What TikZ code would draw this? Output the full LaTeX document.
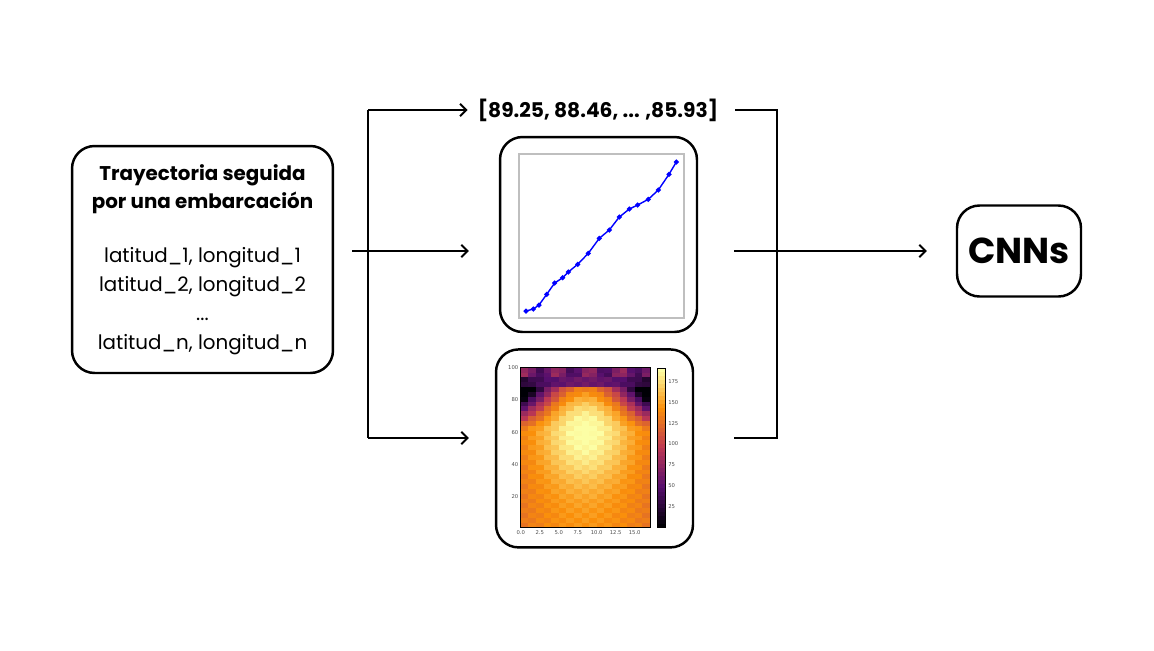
\documentclass[tikz,border=0pt]{standalone}
\usepackage{fontspec}
\setmainfont{Poppins}
\newfontfamily\tickfont{DejaVu Sans}
\usetikzlibrary{arrows.meta,positioning}

% inferno colour for a value in [0,1]
\newcommand\setinferno[1]{%
  \pgfmathsetmacro\infT{4*max(0,min(0.999,#1))}%
  \pgfmathtruncatemacro\infS{\infT}%
  \pgfmathtruncatemacro\infN{\infS+1}%
  \pgfmathsetmacro\infF{\infT-\infS}%
  \pgfmathsetmacro\infR{{0.00,0.34,0.74,0.98,0.99}[\infS]*(1-\infF)+{0.00,0.34,0.74,0.98,0.99}[\infN]*\infF}%
  \pgfmathsetmacro\infG{{0.00,0.06,0.22,0.56,1.00}[\infS]*(1-\infF)+{0.00,0.06,0.22,0.56,1.00}[\infN]*\infF}%
  \pgfmathsetmacro\infB{{0.02,0.43,0.33,0.04,0.65}[\infS]*(1-\infF)+{0.02,0.43,0.33,0.04,0.65}[\infN]*\infF}%
  \definecolor{cellc}{rgb}{\infR,\infG,\infB}}

\begin{document}
\begin{tikzpicture}[x=0.02cm,y=-0.02cm,every path/.style={>={Straight Barb[length=3.5pt,width=7pt]}},
		block/.style={rectangle,draw,line width=1.4pt,rounded corners=0.45cm,align=center},
		link/.style={line width=1.1pt},
		tick/.style={font=\tickfont\fontsize{3}{3}\selectfont,text=black!70,inner sep=0.8pt}]
		\useasboundingbox (0,0) rectangle (1154,650);

		\node[block,minimum width=5.22cm,minimum height=4.54cm,font=\fontsize{11.3}{16.5}\selectfont] (traj) at (202.5,259.5)
			{{\bfseries Trayectoria seguida}\\{\bfseries por una embarcación}\\[14pt]latitud\_1, longitud\_1\\latitud\_2, longitud\_2\\...\\latitud\_n, longitud\_n};
		\node[block,minimum width=3.94cm,minimum height=3.9cm] (plot) at (598.5,234.5) {};
		\node[block,minimum width=3.94cm,minimum height=3.96cm,below=0.3cm of plot,xshift=-0.08cm] (heat) {};
		\node[font=\fontsize{11.5}{14}\bfseries,inner sep=0pt] (vals) at (598,110) {[89.25, 88.46, ... ,85.93]};
		\node[block,minimum width=2.48cm,minimum height=1.82cm,font=\fontsize{20.5}{24}\bfseries] (cnn) at (1019,251) {CNNs};

		% line plot
		\draw[gray!50,line width=0.6pt] (519,154) rectangle (684,318);
		\draw[blue,line width=0.8pt,mark=*,mark size=1pt] plot coordinates {(526,311) (533.3,309) (539,305) (546.7,294.3) (554.7,283) (562.7,277.7) (568.3,272) (577.7,264.3) (588.3,253.3) (599.3,238.3) (609.3,230) (619.3,217) (629.3,209) (637.7,205) (648.3,199.3) (658.3,190) (669,174.3) (676.3,162)};

		% heat map
		\foreach \i in {0,...,16}{
			\foreach \j in {0,...,32}{
				\pgfmathsetmacro\hx{(\i+0.5-8.5)/8.5}
				\pgfmathsetmacro\hy{3*\j+2.5}
				\pgfmathsetmacro\hb{125+15*(1-\hx*\hx)+50*exp(-(\hx/0.7)^2-((\hy-60)/32)^2)}
				\pgfmathsetmacro\hv{\hy<62 ? \hb : (\hy<88 ? \hb-(200*(\hy-62)/30)*\hx*\hx-50*((\hy-62)/30)^2 : (\hy<94 ? 15+40*(1-\hx*\hx) : 55+20*cos(\i*85)))}
				\setinferno{(\hv+6*mod(\i+\j,2))/190}
				\fill[cellc] (520.7+7.6*\i,527.7-4.85*\j) rectangle ++(7.7,-4.95);
			}}
		\draw[line width=0.3pt] (520.7,367.7) rectangle (650,527.7);
		\foreach \k in {0,...,39}{
			\setinferno{\k/39}
			\fill[cellc] (657.7,527.7-3.985*\k) rectangle ++(8,-4.1);
		}
		\draw[line width=0.3pt] (657.7,368.3) rectangle (665.7,527.7);
		\foreach \u in {20,40,...,100}
			\node[tick,anchor=east] at (520,527.7-1.617*\u+1.6) {\u};
		\foreach \u/\t in {0/0.0,2.5/2.5,5/5.0,7.5/7.5,10/10.0,12.5/12.5,15/15.0}
			\node[tick,anchor=north] at (520.7+7.6*\u,528.5) {\t};
		\foreach \v in {25,50,...,175}
			\node[tick,anchor=west] at (666.5,527.7-0.837*\v) {\v};

		% connectors
		\coordinate (ftop) at (368,110);
		\coordinate (fbot) at (368,438);
		\coordinate (jtop) at (777,110);
		\coordinate (jbot) at (777,438);
		\coordinate (jmid) at (777,251);
		\draw[link] (ftop) -- (fbot);
		\draw[link,->,shorten <=0.36cm,shorten >=0.6cm] (traj.east |- jmid) -- (plot.west |- jmid);
		\draw[link,->,shorten >=0.2cm] (ftop) -- (vals.west);
		\draw[link,->,shorten >=0.52cm] (fbot) -- (fbot -| heat.west);
		\draw[link] ([xshift=0.34cm]vals.east) -- (jtop) -- (jbot) -- ([xshift=0.8cm]heat.east |- jbot);
		\draw[link,->,shorten >=0.58cm] ([xshift=0.72cm]plot.east |- jmid) -- (cnn.west);
	\end{tikzpicture}
\end{document}
